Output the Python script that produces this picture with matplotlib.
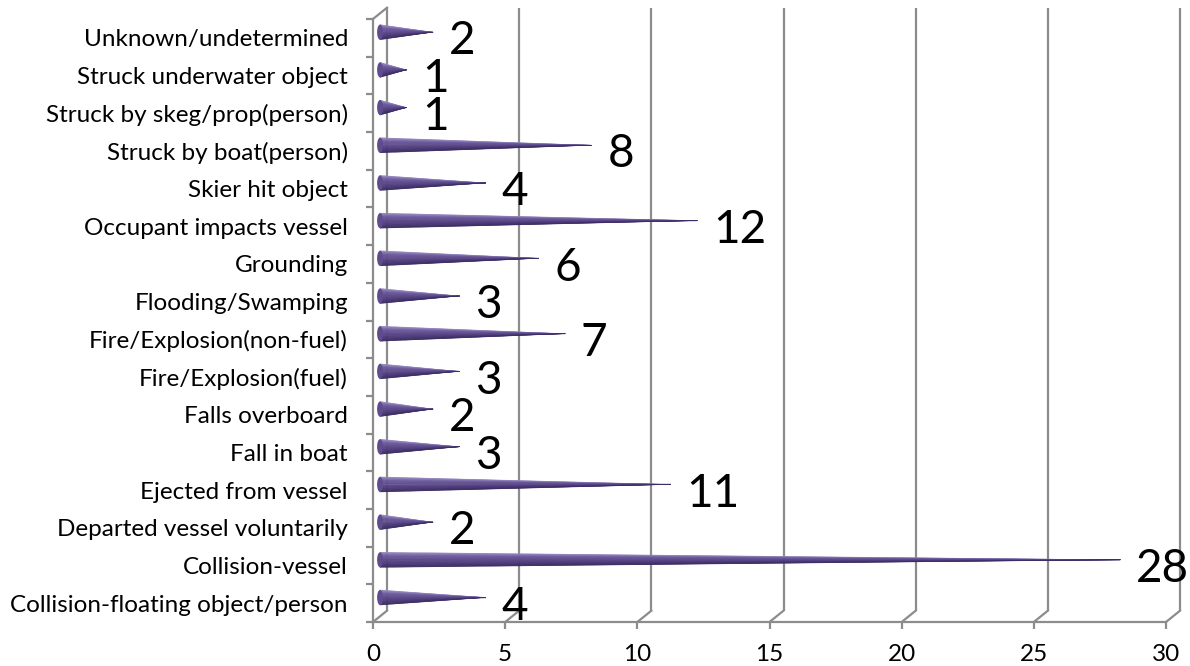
import numpy as np
import matplotlib
matplotlib.use("Agg")
import matplotlib.pyplot as plt
from matplotlib.collections import PolyCollection
from matplotlib.colors import LinearSegmentedColormap
from matplotlib.patches import Ellipse

plt.rcParams["font.family"] = ["Lato", "DejaVu Sans"]

# top to bottom, as in the chart
categories = [
    "Unknown/undetermined",
    "Struck underwater object",
    "Struck by skeg/prop(person)",
    "Struck by boat(person)",
    "Skier hit object",
    "Occupant impacts vessel",
    "Grounding",
    "Flooding/Swamping",
    "Fire/Explosion(non-fuel)",
    "Fire/Explosion(fuel)",
    "Falls overboard",
    "Fall in boat",
    "Ejected from vessel",
    "Departed vessel voluntarily",
    "Collision-vessel",
    "Collision-floating object/person",
]
counts = [2, 1, 1, 8, 4, 12, 6, 3, 7, 3, 2, 3, 11, 2, 28, 4]
x_ticks = [0, 5, 10, 15, 20, 25, 30]

GRID = "#8c8c8c"
shade = LinearSegmentedColormap.from_list(
    "cone", ["#9c8ec4", "#6c5a9c", "#5e4b8c", "#4d3b7a", "#3a2b60"])

fig = plt.figure(figsize=(11.9, 6.66), dpi=100)
ax = fig.add_axes([373 / 1190, 44 / 666, 793 / 1190, 603 / 666])
n = len(categories)
ax.set_xlim(0, 30)
ax.set_ylim(n, 0)

# depth of the 3d box (data units)
dx, dy = 0.53, 0.30

# back wall gridlines + floor diagonals
for v in x_ticks:
    ax.plot([v + dx, v + dx], [n - dy, -dy], color=GRID, lw=1.6,
            zorder=1, clip_on=False, solid_capstyle="butt")
    ax.plot([v, v + dx], [n, n - dy], color=GRID, lw=1.6,
            zorder=1, clip_on=False)
# left wall
ax.plot([0, dx], [0, -dy], color=GRID, lw=1.6, zorder=1, clip_on=False)

# cones
half = 0.2
slices = 24
for k, val in enumerate(counts):
    yc = k + 0.5 - dy / 2
    x0 = dx / 2
    tip = val + dx / 2
    edges = np.linspace(yc - half, yc + half, slices + 1)
    polys, cols = [], []
    for i in range(slices):
        polys.append([(x0, edges[i]), (x0, edges[i + 1]), (tip, yc)])
        cols.append(shade((i + 0.5) / slices))
    ax.add_collection(PolyCollection(polys, facecolors=cols,
                                     edgecolors=cols, linewidths=0.3,
                                     zorder=3, clip_on=False))
    ax.add_patch(Ellipse((x0, yc), 0.22, 2 * half, facecolor="#5e4c8d",
                         edgecolor="none", zorder=3.5, clip_on=False))
    ax.text(val + dx / 2 + 0.6, k + 0.5 + 0.44, str(val), fontsize=33,
            ha="left", va="baseline", color="black", zorder=5,
            clip_on=False)

# front axes
for s in ["top", "right"]:
    ax.spines[s].set_visible(False)
for s in ["left", "bottom"]:
    ax.spines[s].set_color(GRID)
    ax.spines[s].set_linewidth(1.6)
    ax.spines[s].set_zorder(2)

ax.set_xticks(x_ticks)
ax.set_xticklabels([str(t) for t in x_ticks])
ax.tick_params(axis="x", length=5, width=1.6, color=GRID, labelsize=17.5,
               pad=11)
ax.set_yticks(range(n + 1))
ax.set_yticklabels([])
ax.set_yticks([k + 0.5 for k in range(n)], minor=True)
ax.set_yticklabels(categories, minor=True)
ax.tick_params(axis="y", which="major", length=5, width=1.6, color=GRID)
ax.tick_params(axis="y", which="minor", length=0, labelsize=17.5, pad=18)
ax.set_facecolor("none")

fig.savefig("out.png", dpi=100)
